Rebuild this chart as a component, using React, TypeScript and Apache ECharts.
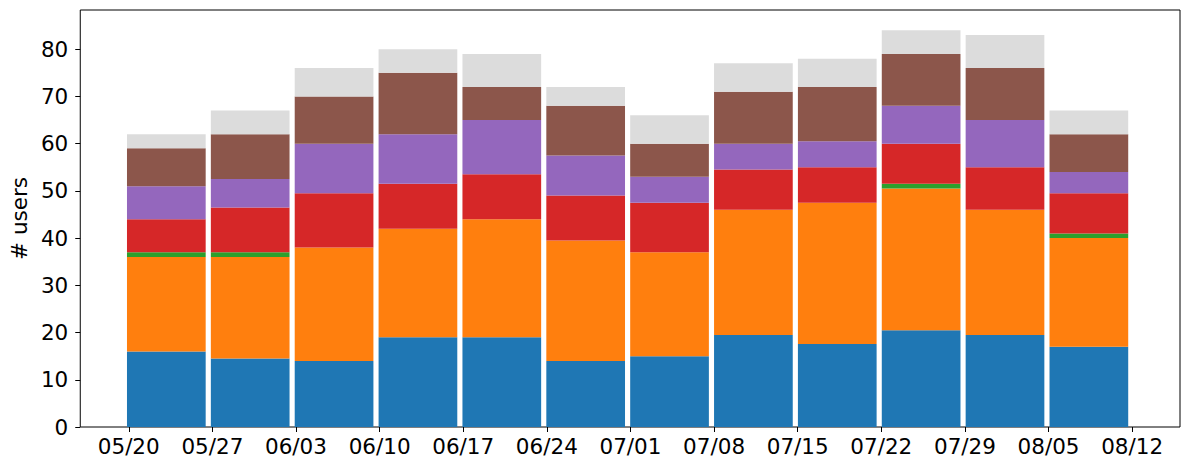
import React, { useEffect, useRef } from 'react';
import * as echarts from 'echarts';

// week start labels (ticks sit on bar edges)
const weekLabels = ['05/20', '05/27', '06/03', '06/10', '06/17', '06/24', '07/01', '07/08', '07/15', '07/22', '07/29', '08/05', '08/12'];
const weeks = weekLabels.slice(0, 12);

// stacked segments, one value per week (bottom to top)
const blueVals = [16, 14.5, 14, 19, 19, 14, 15, 19.5, 17.6, 20.5, 19.5, 17];
const orangeVals = [20, 21.5, 24, 23, 25, 25.5, 22, 26.5, 29.9, 30, 26.5, 23];
const greenVals = [1, 1, 0, 0, 0, 0, 0, 0, 0, 1, 0, 1];
const redVals = [7, 9.5, 11.5, 9.5, 9.5, 9.5, 10.5, 8.5, 7.5, 8.5, 9, 8.5];
const purpleVals = [7, 6, 10.5, 10.5, 11.5, 8.5, 5.5, 5.5, 5.5, 8, 10, 4.5];
const brownVals = [8, 9.5, 10, 13, 7, 10.5, 7, 11, 11.5, 11, 11, 8];
const greyVals = [3, 5, 6, 5, 7, 4, 6, 6, 6, 5, 7, 5];

const yTicks = [0, 10, 20, 30, 40, 50, 60, 70, 80];
const xTicks = weekLabels.map((_, i) => i);

const FONT = 'DejaVu Sans';
const FS = 21.5;
const Y_MAX = 88.3;

const App: React.FC = () => {
  const chartRef = useRef<HTMLDivElement>(null);

  useEffect(() => {
    if (!chartRef.current) return;
    const chart = echarts.init(chartRef.current, undefined, { renderer: 'svg' });

    const layers = [
      { name: 'blue', color: '#1f77b4', vals: blueVals },
      { name: 'orange', color: '#ff7f0e', vals: orangeVals },
      { name: 'green', color: '#2ca02c', vals: greenVals },
      { name: 'red', color: '#d62728', vals: redVals },
      { name: 'purple', color: '#9467bd', vals: purpleVals },
      { name: 'brown', color: '#8c564b', vals: brownVals },
      { name: 'other', color: '#dcdcdc', vals: greyVals }
    ];

    const option = {
      animation: false,
      grid: [
        // frame + visible axes
        {
          left: 77,
          top: 10,
          right: 9,
          bottom: 43,
          show: true,
          borderColor: '#000',
          borderWidth: 1,
          backgroundColor: 'transparent'
        },
        // bars: one band per week, band edges on the week ticks
        { left: 124.4, top: 10, right: 58.2, bottom: 43 }
      ],
      xAxis: [
        {
          type: 'value',
          gridIndex: 0,
          min: -0.58,
          max: 12.572,
          axisLine: { show: false },
          splitLine: { show: false },
          axisTick: { show: true, length: 5, lineStyle: { color: '#000' }, customValues: xTicks },
          axisLabel: {
            customValues: xTicks,
            formatter: (v: number) => weekLabels[Math.round(v)] ?? '',
            fontFamily: FONT,
            fontSize: FS,
            color: '#000',
            margin: 8
          }
        },
        {
          type: 'category',
          gridIndex: 1,
          data: weeks,
          boundaryGap: true,
          show: false
        }
      ],
      yAxis: [
        {
          type: 'value',
          gridIndex: 0,
          min: 0,
          max: Y_MAX,
          name: '# users',
          nameLocation: 'middle',
          nameGap: 48,
          nameTextStyle: { fontFamily: FONT, fontSize: FS, color: '#000' },
          axisLine: { show: false, onZero: false },
          splitLine: { show: false },
          axisTick: { show: true, length: 5, lineStyle: { color: '#000' }, customValues: yTicks },
          axisLabel: {
            customValues: yTicks,
            fontFamily: FONT,
            fontSize: FS,
            color: '#000',
            margin: 12
          }
        },
        {
          type: 'value',
          gridIndex: 1,
          min: 0,
          max: Y_MAX,
          show: false,
          splitLine: { show: false }
        }
      ],
      series: layers.map((l) => ({
        name: l.name,
        type: 'bar',
        stack: 'users',
        xAxisIndex: 1,
        yAxisIndex: 1,
        barWidth: 78.7,
        itemStyle: { color: l.color },
        data: l.vals
      }))
    };

    chart.setOption(option);
    return () => {
      chart.dispose();
    };
  }, []);

  return (
    <div
      ref={chartRef}
      style={{ position: 'fixed', left: 0, top: 0, width: 1189, height: 470, background: '#fff' }}
    />
  );
};

export default App;
